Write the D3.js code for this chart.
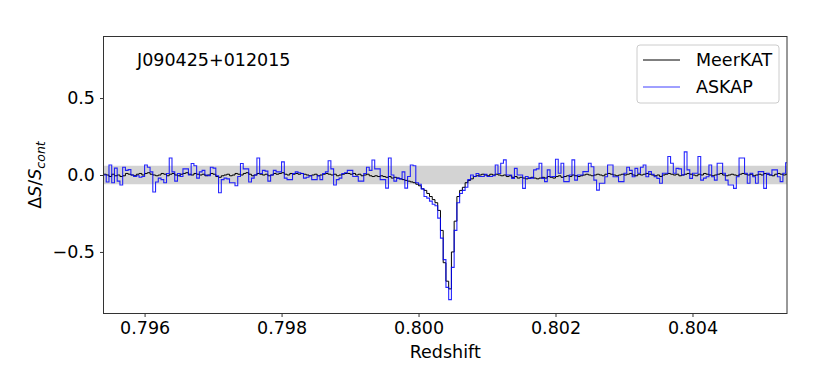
<!DOCTYPE html>
<html lang="en">

<head>
    <meta charset="UTF-8">
    <title>J090425+012015</title>
    <script src="https://d3js.org/d3.v7.min.js"></script>
    <style>
        body { margin: 0; background: #fff; }
        text { font-family: "DejaVu Sans", sans-serif; }
    </style>
</head>

<body>
    <script>
        // channel grid (redshift) shared by both spectra
        var zStart = 0.7954;
        var zStep = 0.00004;

        // ASKAP spectrum, dS/Scont per channel
        var askapValues = [
            0.0, -0.045, 0.065, -0.05, 0.045, -0.04, -0.065, 0.05, 0.03, 0.035,
            0.0, -0.01, -0.005, -0.015, -0.01, 0.065, 0.05, 0.02, -0.11, -0.045,
            -0.02, -0.03, -0.05, 0.01, 0.11, 0.02, -0.04, 0.01, -0.01, 0.04,
            0.04, 0.0, 0.075, 0.06, -0.02, 0.02, 0.03, 0.0, -0.005, 0.05,
            0.045, -0.005, -0.115, -0.03, -0.02, -0.025, -0.05, -0.05, -0.07, -0.01,
            0.075, 0.04, 0.04, -0.045, -0.02, 0.0, 0.11, 0.01, 0.03, 0.025,
            -0.04, 0.0, 0.03, 0.02, 0.02, 0.085, -0.02, -0.03, -0.03, 0.01,
            0.02, 0.015, 0.01, -0.02, -0.015, -0.005, -0.03, -0.03, -0.005, -0.03,
            0.01, 0.02, 0.093, 0.04, -0.065, -0.03, -0.02, 0.01, 0.015, 0.03,
            0.03, -0.01, -0.01, -0.04, -0.04, 0.01, 0.05, 0.03, 0.097, 0.04,
            0.04, -0.03, -0.03, -0.085, 0.11, 0.0, -0.04, -0.02, -0.025, 0.02,
            -0.085, -0.01, 0.065, 0.06, -0.05, -0.06, -0.09, -0.14, -0.15, -0.17,
            -0.19, -0.2, -0.28, -0.41, -0.55, -0.73, -0.81, -0.6, -0.36, -0.18,
            -0.12, -0.1, -0.08, -0.03, 0.0, -0.01, 0.01, -0.01, -0.01, 0.005,
            -0.01, -0.01, -0.005, 0.065, 0.01, 0.076, 0.098, 0.0, 0.0, -0.022,
            0.043, 0.0, 0.0, -0.087, -0.01, -0.022, -0.02, 0.033, 0.04, 0.076,
            -0.022, -0.043, 0.033, -0.011, -0.01, 0.102, 0.011, 0.076, -0.043, -0.043,
            0.0, 0.098, -0.033, 0.0, 0.0, 0.022, 0.022, 0.076, 0.054, -0.033,
            -0.098, -0.054, -0.054, -0.011, 0.065, 0.065, -0.011, -0.011, -0.043, -0.043,
            0.011, 0.05, 0.03, -0.011, 0.043, 0.011, 0.05, 0.065, -0.011, 0.022,
            0.005, -0.011, -0.022, -0.054, 0.011, 0.011, 0.12, 0.076, 0.011, 0.043,
            0.04, 0.0, 0.15, 0.033, -0.022, 0.011, 0.011, 0.12, -0.033, -0.02,
            -0.011, 0.065, -0.011, -0.033, 0.076, 0.076, 0.011, -0.033, -0.065, -0.065,
            -0.087, -0.011, 0.11, 0.11, 0.011, -0.054, 0.011, -0.011, -0.054, 0.022,
            0.022, -0.087, 0.011, 0.0, 0.033, 0.033, -0.011, -0.043, 0.011, 0.08
        ];

        // MeerKAT spectrum, dS/Scont per channel
        var meerkatValues = [
            0.005, 0.0, -0.01, 0.005, -0.005, 0.0, -0.01, -0.005, 0.01, 0.005,
            0.0, -0.005, 0.005, 0.01, 0.0, 0.01, 0.015, 0.005, 0.0, -0.005,
            0.0, 0.01, 0.005, -0.005, 0.005, 0.01, 0.0, -0.005, 0.005, 0.01,
            0.015, 0.005, 0.0, 0.01, 0.005, 0.0, 0.005, -0.005, 0.0, 0.01,
            0.005, -0.01, -0.015, -0.005, 0.0, 0.005, -0.005, 0.0, 0.01, 0.005,
            0.0, 0.01, 0.015, 0.005, -0.005, 0.0, 0.01, 0.005, 0.0, 0.005,
            -0.005, 0.0, 0.01, 0.005, 0.01, 0.015, 0.005, 0.0, 0.01, 0.005,
            0.01, 0.005, 0.01, 0.005, 0.0, -0.005, 0.0, 0.005, -0.005, 0.0,
            0.005, 0.01, 0.005, 0.0, 0.005, -0.005, 0.0, 0.005, 0.01, 0.01,
            0.005, 0.01, 0.0, 0.005, -0.005, 0.0, 0.005, -0.005, -0.01, -0.005,
            -0.01, -0.005, -0.01, -0.015, -0.01, -0.02, -0.015, -0.02, -0.025, -0.03,
            -0.035, -0.04, -0.045, -0.05, -0.06, -0.07, -0.09, -0.1, -0.12, -0.14,
            -0.16, -0.18, -0.23, -0.36, -0.57, -0.69, -0.74, -0.5, -0.3, -0.14,
            -0.1, -0.08, -0.05, -0.035, -0.025, -0.01, -0.005, 0.0, 0.005, 0.0,
            -0.005, 0.005, 0.0, 0.005, 0.0, -0.005, 0.0, -0.01, -0.005, -0.015,
            -0.01, -0.02, -0.015, -0.02, -0.025, -0.02, -0.015, -0.02, -0.025, -0.02,
            -0.015, -0.02, -0.01, -0.015, -0.02, -0.01, -0.005, -0.015, -0.01, -0.005,
            -0.01, 0.0, -0.005, -0.01, -0.005, 0.0, 0.005, 0.0, -0.005, 0.0,
            0.005, 0.0, -0.005, 0.005, 0.01, 0.005, 0.0, -0.005, 0.0, 0.005,
            0.0, 0.005, 0.01, 0.0, -0.005, 0.005, 0.0, 0.005, 0.01, 0.005,
            0.0, -0.005, 0.0, -0.01, 0.0, 0.005, 0.01, 0.005, 0.0, 0.005,
            -0.005, 0.0, 0.005, 0.01, 0.005, 0.0, -0.005, 0.005, 0.0, 0.01,
            0.005, 0.0, -0.005, 0.0, 0.005, 0.01, 0.0, -0.005, 0.0, 0.005,
            0.0, -0.005, 0.005, 0.01, 0.005, 0.0, 0.005, -0.005, 0.0, 0.005,
            0.0, 0.01, 0.005, 0.0, -0.005, 0.005, 0.01, 0.005, 0.0, 0.005
        ];

        // rms noise shown as the grey band
        var noiseLevel = 0.06;

        var xTicks = [0.796, 0.798, 0.800, 0.802, 0.804];
        var yTicks = [-0.5, 0.0, 0.5];
        var seriesNames = ["MeerKAT", "ASKAP"];
        var sourceName = "J090425+012015";

        var width = 830;
        var height = 369;
        var margin = { top: 36.5, right: 43, bottom: 55.5, left: 103.5 };

        var svg = d3.select("body").append("svg")
            .attr("width", width)
            .attr("height", height);

        var xScale = d3.scaleLinear()
            .domain([0.7954, 0.80538])
            .range([margin.left, width - margin.right]);

        var yScale = d3.scaleLinear()
            .domain([-0.9, 0.9])
            .range([height - margin.bottom, margin.top]);

        svg.append("clipPath").attr("id", "plotclip")
            .append("rect")
            .attr("x", margin.left)
            .attr("y", margin.top)
            .attr("width", width - margin.left - margin.right)
            .attr("height", height - margin.top - margin.bottom);

        function toPoints(values) {
            var pts = values.map(function (v, i) {
                return { z: zStart + i * zStep, v: v };
            });
            // closing point so the last channel gets its full width
            pts.push({ z: zStart + values.length * zStep, v: values[values.length - 1] });
            return pts;
        }

        var askap = toPoints(askapValues);
        var meerkat = toPoints(meerkatValues);

        var plot = svg.append("g").attr("clip-path", "url(#plotclip)");

        // noise band
        plot.append("path")
            .datum(askap)
            .attr("fill", "#d3d3d3")
            .attr("d", d3.area()
                .x(function (d) { return xScale(d.z); })
                .y0(function () { return yScale(-noiseLevel); })
                .y1(function () { return yScale(noiseLevel); }));

        var stepLine = d3.line()
            .curve(d3.curveStepAfter)
            .x(function (d) { return xScale(d.z); })
            .y(function (d) { return yScale(d.v); });

        plot.append("path")
            .datum(meerkat)
            .attr("fill", "none")
            .attr("stroke", "#000")
            .attr("stroke-width", 1)
            .attr("d", stepLine);

        plot.append("path")
            .datum(askap)
            .attr("fill", "none")
            .attr("stroke", "#0000ff")
            .attr("stroke-opacity", 0.85)
            .attr("stroke-width", 1.1)
            .attr("d", stepLine);

        // axes
        var xAxis = d3.axisBottom(xScale)
            .tickValues(xTicks)
            .tickFormat(d3.format(".3f"))
            .tickSizeInner(3.5)
            .tickSizeOuter(0)
            .tickPadding(5);

        var yAxis = d3.axisLeft(yScale)
            .tickValues(yTicks)
            .tickFormat(function (d) { return d3.format(".1f")(d).replace("-", "\u2212"); })
            .tickSizeInner(3.5)
            .tickSizeOuter(0)
            .tickPadding(5);

        var gx = svg.append("g")
            .attr("transform", "translate(0," + (height - margin.bottom) + ")")
            .call(xAxis);
        var gy = svg.append("g")
            .attr("transform", "translate(" + margin.left + ",0)")
            .call(yAxis);

        [gx, gy].forEach(function (g) {
            g.select(".domain").remove();
            g.selectAll(".tick line").attr("stroke", "#000").attr("stroke-width", 0.8);
            g.selectAll(".tick text")
                .attr("fill", "#000")
                .style("font-size", "17.5px")
                .style("font-family", "'DejaVu Sans', sans-serif");
        });

        // frame
        svg.append("rect")
            .attr("x", margin.left)
            .attr("y", margin.top)
            .attr("width", width - margin.left - margin.right)
            .attr("height", height - margin.top - margin.bottom)
            .attr("fill", "none")
            .attr("stroke", "#333")
            .attr("stroke-width", 1);

        // axis labels
        svg.append("text")
            .attr("x", (margin.left + width - margin.right) / 2)
            .attr("y", 358)
            .attr("text-anchor", "middle")
            .style("font-size", "17.5px")
            .text("Redshift");

        var ylab = svg.append("text")
            .attr("transform", "translate(41,175) rotate(-90)")
            .attr("text-anchor", "middle")
            .style("font-size", "17.5px");
        ylab.append("tspan").text("\u0394");
        ylab.append("tspan").style("font-style", "italic").text("S");
        ylab.append("tspan").text("/");
        ylab.append("tspan").style("font-style", "italic").text("S");
        ylab.append("tspan")
            .attr("dy", 4)
            .style("font-style", "italic")
            .style("font-size", "12.5px")
            .text("cont");

        // source name
        svg.append("text")
            .attr("x", 137)
            .attr("y", 66)
            .style("font-size", "17.5px")
            .text(sourceName);

        // legend
        var legend = svg.append("g");
        legend.append("rect")
            .attr("x", 637)
            .attr("y", 45)
            .attr("width", 142)
            .attr("height", 58)
            .attr("rx", 3)
            .attr("fill", "#fff")
            .attr("fill-opacity", 0.8)
            .attr("stroke", "#ccc");

        var legendColors = ["#000", "#0000ff"];
        seriesNames.forEach(function (name, i) {
            var ly = 60 + i * 27;
            legend.append("line")
                .attr("x1", 643).attr("x2", 680)
                .attr("y1", ly).attr("y2", ly)
                .attr("stroke", legendColors[i])
                .attr("stroke-opacity", i === 1 ? 0.75 : 1)
                .attr("stroke-width", 1);
            legend.append("text")
                .attr("x", 696)
                .attr("y", ly + 6)
                .style("font-size", "17.5px")
                .text(name);
        });
    </script>
</body>

</html>
